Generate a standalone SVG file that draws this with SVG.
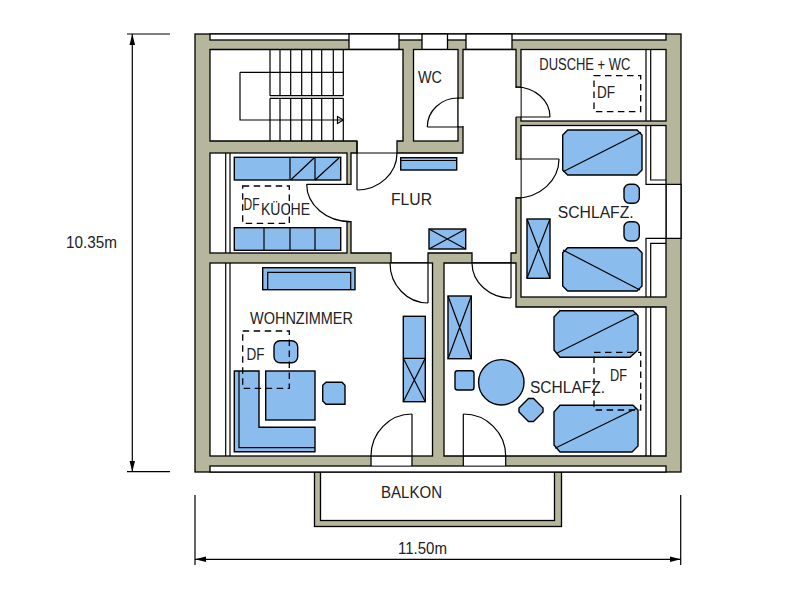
<svg xmlns="http://www.w3.org/2000/svg" width="800" height="600" viewBox="0 0 800 600">
<style>
.w{fill:#b6b69c;stroke:#000;stroke-width:1.3}
.r{fill:#fff;stroke:#000;stroke-width:1.3}
.e{fill:#fff;stroke:none}
.l{fill:none;stroke:#000;stroke-width:1.2}
.b{fill:#8bbcee;stroke:#000;stroke-width:1.4}
.d{fill:none;stroke:#000;stroke-width:1.3;stroke-dasharray:6.500 4.500}
text{font-family:"Liberation Sans",Arial,sans-serif;font-size:16px;fill:#222;stroke:none}
</style>
<defs>
<marker id="a" markerUnits="userSpaceOnUse" markerWidth="12" markerHeight="8" refX="11" refY="4" orient="auto-start-reverse"><path d="M0 1.200L11 4L0 6.800Z" fill="#000"/></marker>
</defs>
<rect width="800" height="600" fill="#fff"/>
<g id="balkon">
<rect class="w" x="314.500" y="465" width="247" height="61.500"/>
<rect class="r" x="320.500" y="465" width="234" height="55.500"/>
</g>
<g id="walls">
<rect class="w" x="195" y="34" width="486" height="438"/>
<rect class="r" x="210" y="34" width="456" height="6"/>
<rect class="r" x="210" y="466" width="456" height="6"/>
<rect class="r" x="349" y="34" width="50" height="15.500"/>
<rect class="r" x="422" y="34" width="25.500" height="15.500"/>
<rect class="r" x="466" y="34" width="46" height="15.500"/>
<path class="r" d="M666 184.300H681V238.300H666Z"/>
</g>
<g id="rooms">
<path class="r" d="M210 49.500H403V141H397V153H463V49.500H516V253H511V263H472V253H428V263H391V253H351V153H357V141H210Z"/>
<rect class="r" x="210" y="153" width="137" height="100"/>
<rect class="r" x="413.500" y="49.500" width="44.500" height="91.500"/>
<rect class="r" x="521" y="49.500" width="145" height="71.500"/>
<rect class="r" x="521" y="125.500" width="145" height="171.500"/>
<rect class="r" x="210" y="263" width="222.500" height="193"/>
<path class="r" d="M444 263H516V307H666V456H444Z"/>
</g>
<g id="openings">
<rect class="e" x="345" y="185" width="7" height="36"/>
<rect class="e" x="457.500" y="99" width="6.500" height="27"/>
<rect class="e" x="515" y="88" width="5.500" height="29"/>
<rect class="e" x="515" y="160" width="5.500" height="37"/>
<rect class="e" x="371.500" y="457" width="40" height="8.500"/>
<rect class="e" x="464" y="457" width="41" height="8.500"/>
<path class="l" d="M347 184.300H351M347 221.700H351M458 98H463M427.300 127H463M458 98V127"/>
<path class="l" d="M516 87H521M516 117H550M516 159H559M516 198H521"/>
<path class="l" d="M371 456V466M412 414V466M463.300 414V466M505.700 456V466"/>
</g>
<g id="doors">
<path class="l" d="M357 141V190M357 153H397M397 153A40 37 0 0 1 357 190"/>
<path class="l" d="M306.700 184.300H347M306.700 184.300A44 37.400 0 0 0 350.700 221.700"/>
<path class="l" d="M458 98A30.700 29 0 0 0 427.300 127"/>
<path class="l" d="M516 87A34 30 0 0 1 550 117"/>
<path class="l" d="M559 159A43 39 0 0 1 516 198"/>
<path class="l" d="M428 263V303M390 263A38 40 0 0 0 428 303"/>
<path class="l" d="M511 263V298M472 263A39 35 0 0 0 511 298"/>
<path class="l" d="M412 414A41 42 0 0 0 371 456"/>
<path class="l" d="M463.300 414A42.400 42 0 0 1 505.700 456"/>
</g>
<g id="sills">
<path class="l" d="M225.700 153V253M230 153V253M225.700 263V456M230 263V456"/>
<path class="l" d="M646 49.500V121M650.700 49.500V121M646 125.500V184.300H666M650.700 125.500V180H666M646 297V238.300H666M650.700 297V243.300H666M646 307V456M650.700 307V456"/>
</g>
<g id="stairs">
<path class="l" d="M270 49.500V95.700M280 49.500V95.700M290.700 49.500V95.700M301.700 49.500V95.700M311.700 49.500V95.700M321.700 49.500V95.700M333.300 49.500V95.700M343.300 49.500V95.700"/>
<path class="l" d="M270 98.300V141M280 98.300V141M290.700 98.300V141M301.700 98.300V141M311.700 98.300V141M321.700 98.300V141M333.300 98.300V141M343.300 98.300V141"/>
<path class="l" d="M270 95.700H343.300M270 98.300H343.300M240 72.300H343.300M240 72.300V120H343.300"/>
<path class="l" d="M337.500 116.500V123.500L343.300 120Z"/>
</g>
<g id="kueche">
<rect class="b" x="234.300" y="157.300" width="106.400" height="22.700"/>
<path class="l" d="M290 157.300V180M315 157.300V180M290.700 180L314 158M315 180L339 158"/>
<rect class="b" x="234.300" y="227.700" width="106.400" height="22.600"/>
<path class="l" d="M264 227.700V250.300M290 227.700V250.300M315 227.700V250.300"/>
<rect class="d" x="242.700" y="186" width="46.600" height="37.300"/>
<text x="243.500" y="210" textLength="16" lengthAdjust="spacingAndGlyphs">DF</text>
<text x="261" y="215" textLength="49" lengthAdjust="spacingAndGlyphs">KÜCHE</text>
</g>
<g id="flur">
<rect class="b" x="400.700" y="157.700" width="56" height="12.300"/>
<path class="l" d="M400.700 160.500H456.700"/>
<rect class="b" x="429" y="229" width="36.700" height="20"/>
<path class="l" d="M429 229L465.700 249M465.700 229L429 249"/>
<text x="391" y="205" textLength="41" lengthAdjust="spacingAndGlyphs">FLUR</text>
</g>
<g id="wc"><text x="418" y="83" textLength="24" lengthAdjust="spacingAndGlyphs">WC</text></g>
<g id="dusche">
<rect class="d" x="594" y="75.700" width="46.700" height="36"/>
<text x="597" y="97.700" textLength="18" lengthAdjust="spacingAndGlyphs">DF</text>
<text x="539.300" y="70" textLength="91" lengthAdjust="spacingAndGlyphs">DUSCHE + WC</text>
</g>
<g id="schlafzimmer-1">
<path class="b" d="M567.700 130H637L642 135V170L637 175H567.700L562.700 170V135Z"/>
<path class="l" d="M563 171.700L641 132.300"/>
<rect class="b" x="624" y="184.300" width="15.300" height="19" rx="5.500"/>
<rect class="b" x="624" y="221.700" width="15.300" height="19.300" rx="5.500"/>
<path class="b" d="M567.700 247.700H637L642 252.700V286L637 291H567.700L562.700 286V252.700Z"/>
<path class="l" d="M563 250L640 290"/>
<rect class="b" x="527" y="219" width="23" height="59.300"/>
<path class="l" d="M527 219L550 278.300M550 219L527 278.300"/>
<text x="557.700" y="217.700" textLength="76" lengthAdjust="spacingAndGlyphs">SCHLAFZ.</text>
</g>
<g id="wohnzimmer">
<rect class="b" x="262.700" y="267.700" width="92.300" height="22"/>
<path class="l" d="M267.700 289.700V272.300H350.700V289.700"/>
<rect class="b" x="274" y="340.700" width="23.700" height="22" rx="6"/>
<rect class="b" x="265.700" y="371" width="49.300" height="49"/>
<path class="b" d="M234.300 371H259V427.300H315V451.700H234.300Z"/>
<path class="l" d="M239 371V447.700H315"/>
<path class="b" d="M326 382.300H342L345 385.300V404.300H326L322.700 401V385.300Z"/>
<rect class="b" x="403.300" y="316.300" width="22" height="85.400"/>
<path class="l" d="M403.300 358.300H425.300L403.300 401.700M425.300 401.700L403.300 358.300"/>
<rect class="d" x="242.700" y="331" width="46.600" height="57.300"/>
<text x="246.500" y="360" textLength="18" lengthAdjust="spacingAndGlyphs">DF</text>
<text x="250" y="324.300" textLength="103" lengthAdjust="spacingAndGlyphs">WOHNZIMMER</text>
</g>
<g id="schlafzimmer-2">
<rect class="b" x="448" y="296" width="23.300" height="62.700"/>
<path class="l" d="M448 296L471.300 358.700M471.300 296L448 358.700"/>
<rect class="b" x="455" y="370.700" width="19" height="19.300" rx="2.500"/>
<circle class="b" cx="501.300" cy="382.300" r="22.700"/>
<path class="b" d="M528.500 398.500H533.500L543 408V412L533.500 421.500H528.500L519 412V408Z"/>
<path class="b" d="M560 310.700H633L638 315.700V350L630 357.300H560L554 350V317Z"/>
<path class="l" d="M556.700 353.300L636.700 313.300"/>
<path class="b" d="M560 405.300H633L638 410V446L632 452H560L554 445V412Z"/>
<path class="l" d="M555 448.300L636.700 408.300"/>
<rect class="d" x="594" y="352.300" width="46.700" height="57.700"/>
<text x="610" y="381" textLength="17" lengthAdjust="spacingAndGlyphs">DF</text>
<text x="530" y="393.300" textLength="75" lengthAdjust="spacingAndGlyphs">SCHLAFZ.</text>
</g>
<g id="balkon-label"><text x="381" y="498" textLength="61" lengthAdjust="spacingAndGlyphs">BALKON</text></g>
<g id="dimensions">
<path class="l" d="M127 34H170M127 471.700H170M195 495V565M680.700 495V565"/>
<path class="l" d="M132.300 34V471.700" marker-start="url(#a)" marker-end="url(#a)"/>
<path class="l" d="M195 559.300H680.700" marker-start="url(#a)" marker-end="url(#a)"/>
<text x="66" y="248" textLength="51" lengthAdjust="spacingAndGlyphs">10.35m</text>
<text x="398" y="554" textLength="49" lengthAdjust="spacingAndGlyphs">11.50m</text>
</g>
</svg>
